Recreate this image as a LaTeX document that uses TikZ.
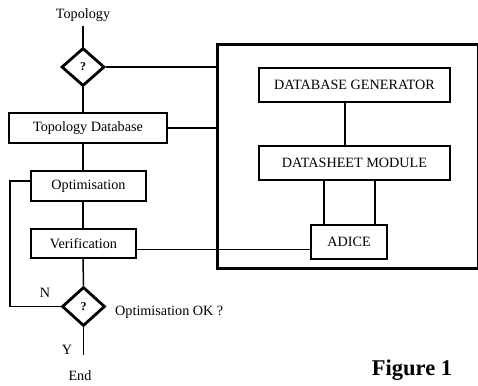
\documentclass[tikz,border=0pt]{standalone}
\usepackage{fontspec}
\setmainfont{Liberation Serif}
\usetikzlibrary{shapes.geometric}
\begin{document}
\begin{tikzpicture}[x=1pt,y=-1pt,
  box/.style={draw,line width=1.6pt,inner sep=0pt,font=\fontsize{14.2}{16}\selectfont},
  dia/.style={draw,diamond,line width=2.8pt,inner sep=0pt,font=\fontsize{12}{13}\selectfont\bfseries},
  conn/.style={line width=1.5pt},
  thin/.style={line width=1pt},
  lbl/.style={inner sep=0pt,font=\fontsize{14.2}{16}\selectfont}]
\useasboundingbox (0,0) rectangle (478,385);
% big container
\node[draw,line width=3pt,inner sep=0pt,minimum width=261pt,minimum height=223pt] (big) at (347.5,156.5) {};
% left column
\node[lbl] (top) at (83,15) {Topology};
\node[dia,minimum width=43pt,minimum height=38pt] (d1) at (83,67) {?};
\node[box,minimum width=158pt,minimum height=30pt] (td) at (88,128) {Topology Database};
\node[box,minimum width=115pt,minimum height=30pt] (opt) at (88.5,186) {Optimisation};
\node[box,minimum width=105pt,minimum height=29pt] (ver) at (83.5,243.5) {Verification};
\node[dia,minimum width=43pt,minimum height=39pt] (d2) at (83.5,306.5) {?};
\node[lbl,anchor=west] (ok) at (115,312) {Optimisation OK ?};
\node[lbl] (n) at (45,293) {N};
\node[lbl] (y) at (67,350) {Y};
\node[lbl] (end) at (80,376) {End};
\node[inner sep=0pt,font=\fontsize{22.5}{26}\selectfont\bfseries] (fig) at (412,370) {Figure 1};
% right modules
\node[box,minimum width=191pt,minimum height=34pt] (dg) at (354.5,85) {DATABASE GENERATOR};
\node[box,minimum width=191pt,minimum height=34pt] (dm) at (354.5,163) {DATASHEET MODULE};
\node[box,minimum width=76pt,minimum height=34pt] (adice) at (349,242) {ADICE};
% helper coordinates
\coordinate (sp) at (83,0);
\coordinate (yend) at (83.5,355);
\coordinate (loopL) at (10,181);
\coordinate (c1) at (345,0);
\coordinate (c2) at (324,0);
\coordinate (c3) at (375,0);
\coordinate (va) at ([yshift=-5.5pt]ver.east);
% connectors
\draw[conn] ([yshift=-4pt]top.south) -- (d1.north);
\draw[conn] (d1.east) -- (d1.east -| big.west);
\draw[conn] (d1.south) -- (d1.south |- td.north);
\draw[conn] (td.east) -- (td.east -| big.west);
\draw[conn] (td.south -| sp) -- (opt.north -| sp);
\draw[conn] (opt.south -| sp) -- (ver.north -| sp);
\draw[conn] (ver.south -| sp) -- (d2.north);
\draw[conn] (d2.south) -- (yend);
\draw[conn] (d2.west) -| (loopL) -- (loopL -| opt.west);
\draw[thin] (va) -- (va -| adice.west);
\draw[conn] (dg.south -| c1) -- (dm.north -| c1);
\draw[conn] (dm.south -| c2) -- (adice.north -| c2);
\draw[conn] (dm.south -| c3) -- (adice.north -| c3);
\end{tikzpicture}
\end{document}
